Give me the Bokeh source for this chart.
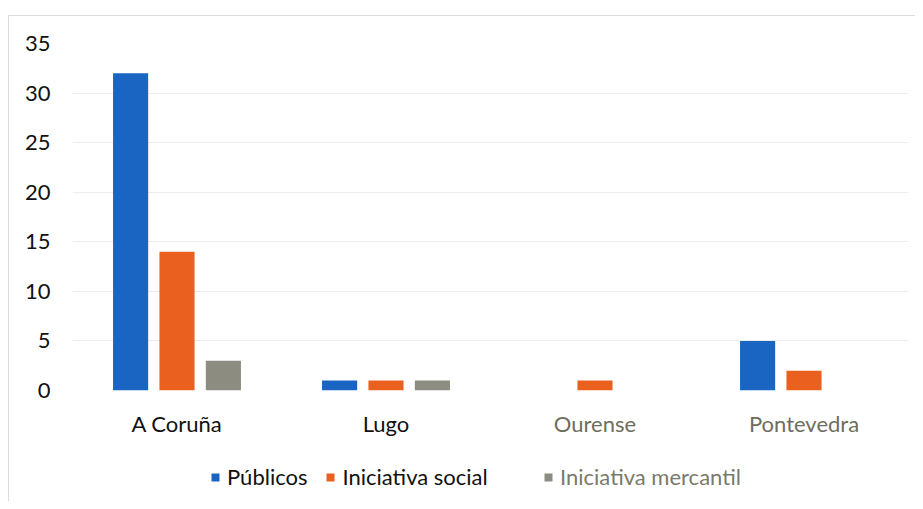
from bokeh.plotting import figure
from bokeh.layouts import column
from bokeh.models import FactorRange, Range1d, FixedTicker, Legend, LegendItem, ColumnDataSource
from bokeh.core.properties import value
from bokeh.transform import dodge
from bokeh.embed import file_html
from bokeh.resources import INLINE

categories = ["A Coruña", "Lugo", "Ourense", "Pontevedra"]
publicos = [32, 1, 0, 5]
social = [14, 1, 1, 2]
mercantil = [3, 1, 0, 0]
series_names = ["Públicos", "Iniciativa social", "Iniciativa mercantil"]
y_ticks = [0, 5, 10, 15, 20, 25, 30, 35]

colors = ["#1a64c2", "#e9601f", "#8c8c80"]
cat_label_colors = ["#111111", "#111111", "#6e6e5c", "#6e6e5c"]
legend_text_colors = ["#111111", "#111111", "#7a7a6c"]
FONT = "Lato"
FS = "22px"

src = ColumnDataSource(dict(cat=categories, publicos=publicos, social=social, mercantil=mercantil))
xr = FactorRange(*categories, range_padding=0)

# main chart
p = figure(x_range=xr, y_range=Range1d(0, 35),
           width=906, height=388, output_backend="svg", toolbar_location=None,
           min_border_left=63, min_border_right=7, min_border_top=27, min_border_bottom=14)
p.outline_line_color = None
p.background_fill_color = "white"
p.border_fill_color = "white"

offs = [-0.222, 0.0, 0.222]
for key, off, col in zip(["publicos", "social", "mercantil"], offs, colors):
    p.vbar(x=dodge("cat", off, range=p.x_range), top=key, width=0.168, source=src,
           fill_color=col, line_color=None)

p.yaxis.ticker = FixedTicker(ticks=y_ticks)
p.yaxis.axis_line_color = None
p.yaxis.major_tick_line_color = None
p.yaxis.minor_tick_line_color = None
p.yaxis.major_label_text_font = FONT
p.yaxis.major_label_text_font_size = FS
p.yaxis.major_label_text_color = "#111111"
p.yaxis.major_label_standoff = 16
p.xaxis.visible = False
p.xgrid.grid_line_color = None
p.ygrid.ticker = FixedTicker(ticks=y_ticks)
p.ygrid.grid_line_color = "#ececec"
p.ygrid.grid_line_width = 1

# bottom strip: category labels and legend
p2 = figure(x_range=xr, y_range=Range1d(0, 97),
            width=906, height=97, output_backend="svg", toolbar_location=None,
            min_border_left=63, min_border_right=7, min_border_top=0, min_border_bottom=0)
p2.outline_line_color = None
p2.axis.visible = False
p2.grid.grid_line_color = None
p2.border_fill_color = "white"

lab_src = ColumnDataSource(dict(cat=categories, color=cat_label_colors, y=[78] * len(categories)))
p2.text(x="cat", y="y", text="cat", text_color="color", source=lab_src,
        text_align="center", text_baseline="middle",
        text_font=value(FONT), text_font_size=value(FS))

# zero-height swatch renderers, used only to draw the legend glyphs
swatches = [p2.vbar(x=[categories[0]], top=[0], bottom=[0], width=0.1,
                    fill_color=c, line_color=None) for c in colors]

common = dict(orientation="horizontal", margin=0, padding=0, spacing=18,
              glyph_width=10, glyph_height=10, label_standoff=7,
              label_text_font=FONT, label_text_font_size=FS,
              border_line_color=None, background_fill_alpha=0)
leg1 = Legend(items=[LegendItem(label=series_names[i], renderers=[swatches[i]]) for i in (0, 1)],
              location=(138, 11), label_text_color=legend_text_colors[0], **common)
leg2 = Legend(items=[LegendItem(label=series_names[2], renderers=[swatches[2]])],
              location=(471, 11), label_text_color=legend_text_colors[2], **common)
p2.add_layout(leg1, "center")
p2.add_layout(leg2, "center")

layout = column(p, p2, spacing=0, margin=(15, 0, 0, 8),
                styles={"border-top": "1px solid #dcdcdc", "border-left": "1px solid #dcdcdc"})

open("out.html", "w").write(file_html(layout, INLINE))
